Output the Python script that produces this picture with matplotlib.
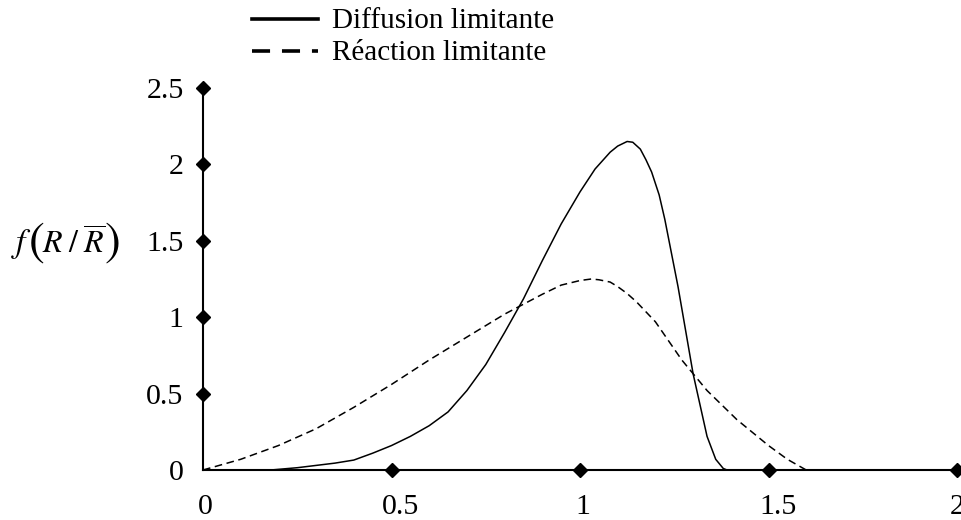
import matplotlib.pyplot as plt
from matplotlib.lines import Line2D
from matplotlib.transforms import ScaledTranslation

plt.rcParams['font.family'] = ['Liberation Serif', 'DejaVu Serif']
plt.rcParams['mathtext.fontset'] = 'stix'

W, H = 961, 520

# Diffusion limitante (trait plein)
x_diff = [0.18, 0.25, 0.30, 0.35, 0.40, 0.45, 0.50, 0.55, 0.60, 0.65, 0.70, 0.75,
          0.80, 0.85, 0.90, 0.95, 1.00, 1.04, 1.08, 1.10, 1.125, 1.14, 1.16,
          1.175, 1.19, 1.21, 1.225, 1.26, 1.30, 1.337, 1.36, 1.38, 1.39, 1.40]
y_diff = [0.0, 0.015, 0.03, 0.045, 0.065, 0.11, 0.16, 0.22, 0.29, 0.38, 0.52, 0.69,
          0.90, 1.12, 1.37, 1.61, 1.82, 1.97, 2.08, 2.12, 2.15, 2.145, 2.10,
          2.03, 1.95, 1.80, 1.64, 1.20, 0.63, 0.22, 0.07, 0.01, 0.0, 0.0]

# Réaction limitante (tirets)
x_reac = [0.0, 0.1, 0.2, 0.3, 0.4, 0.5, 0.6, 0.7, 0.8, 0.9, 0.95, 1.0, 1.03,
          1.05, 1.08, 1.1, 1.125, 1.15, 1.2, 1.27, 1.337, 1.416, 1.5, 1.55, 1.6]
y_reac = [0.0, 0.07, 0.16, 0.27, 0.41, 0.56, 0.72, 0.87, 1.02, 1.15, 1.21, 1.24, 1.25,
          1.245, 1.23, 1.20, 1.155, 1.10, 0.97, 0.72, 0.52, 0.33, 0.16, 0.07, 0.0]

xticks = [0, 0.5, 1, 1.5, 2]
yticks = [0, 0.5, 1, 1.5, 2, 2.5]
xtick_labels = ['0', '0.5', '1', '1.5', '2']
ytick_labels = ['0', '0.5', '1', '1.5', '2', '2.5']

fig = plt.figure(figsize=(W / 100, H / 100), dpi=100)
ax = fig.add_axes([203 / W, 50 / H, 754 / W, 382 / H])

ax.plot(x_diff, y_diff, color='black', lw=1.1, clip_on=False)
ax.plot(x_reac, y_reac, color='black', lw=1.1, ls=(0, (5, 3)), clip_on=False)

ax.set_xlim(0, 2)
ax.set_ylim(0, 2.5)
for s in ['top', 'right']:
    ax.spines[s].set_visible(False)
for s in ['left', 'bottom']:
    ax.spines[s].set_linewidth(1.5)

# marqueurs en losange sur les axes
ax.plot(xticks[1:], [0] * 4, 'D', color='black', ms=7, clip_on=False, zorder=5)
ax.plot([0] * 5, yticks[1:], 'D', color='black', ms=7, clip_on=False, zorder=5)

ax.set_xticks(xticks)
ax.set_xticklabels(xtick_labels)
ax.set_yticks(yticks)
ax.set_yticklabels(ytick_labels)
ax.tick_params(length=0, labelsize=21.5)
ax.tick_params(axis='x', pad=17)
ax.tick_params(axis='y', pad=14)

# petit décalage des étiquettes x, comme dans l'original
for lab, dx in zip(ax.get_xticklabels(), [2, 9, 3, 10, 0]):
    lab.set_transform(lab.get_transform() + ScaledTranslation(dx / 100, 0, fig.dpi_scale_trans))

# titre de l'axe y : f(R / R barre) avec grandes parenthèses
ylab_y = 1 - 244 / H
fig.text(11 / W, ylab_y, r'$f$', fontsize=24, ha='left', va='center')
fig.text(28 / W, ylab_y + 1 / H, r'$($', fontsize=34, ha='left', va='center')
fig.text(42 / W, ylab_y, r'$R\;/\;\overline{R}$', fontsize=23, ha='left', va='center')
fig.text(104 / W, ylab_y + 1 / H, r'$)$', fontsize=34, ha='left', va='center')

# légende
fig.add_artist(Line2D([252 / W, 318 / W], [1 - 19 / H, 1 - 19 / H],
                      color='black', lw=2.6))
fig.add_artist(Line2D([252 / W, 318 / W], [1 - 51 / H, 1 - 51 / H],
                      color='black', lw=2.6, ls=(0, (5, 3.3))))
fig.text(332 / W, 1 - 21 / H, 'Diffusion limitante', fontsize=21, ha='left', va='center')
fig.text(332 / W, 1 - 53 / H, 'Réaction limitante', fontsize=21, ha='left', va='center')

fig.savefig('out.png', dpi=100)
